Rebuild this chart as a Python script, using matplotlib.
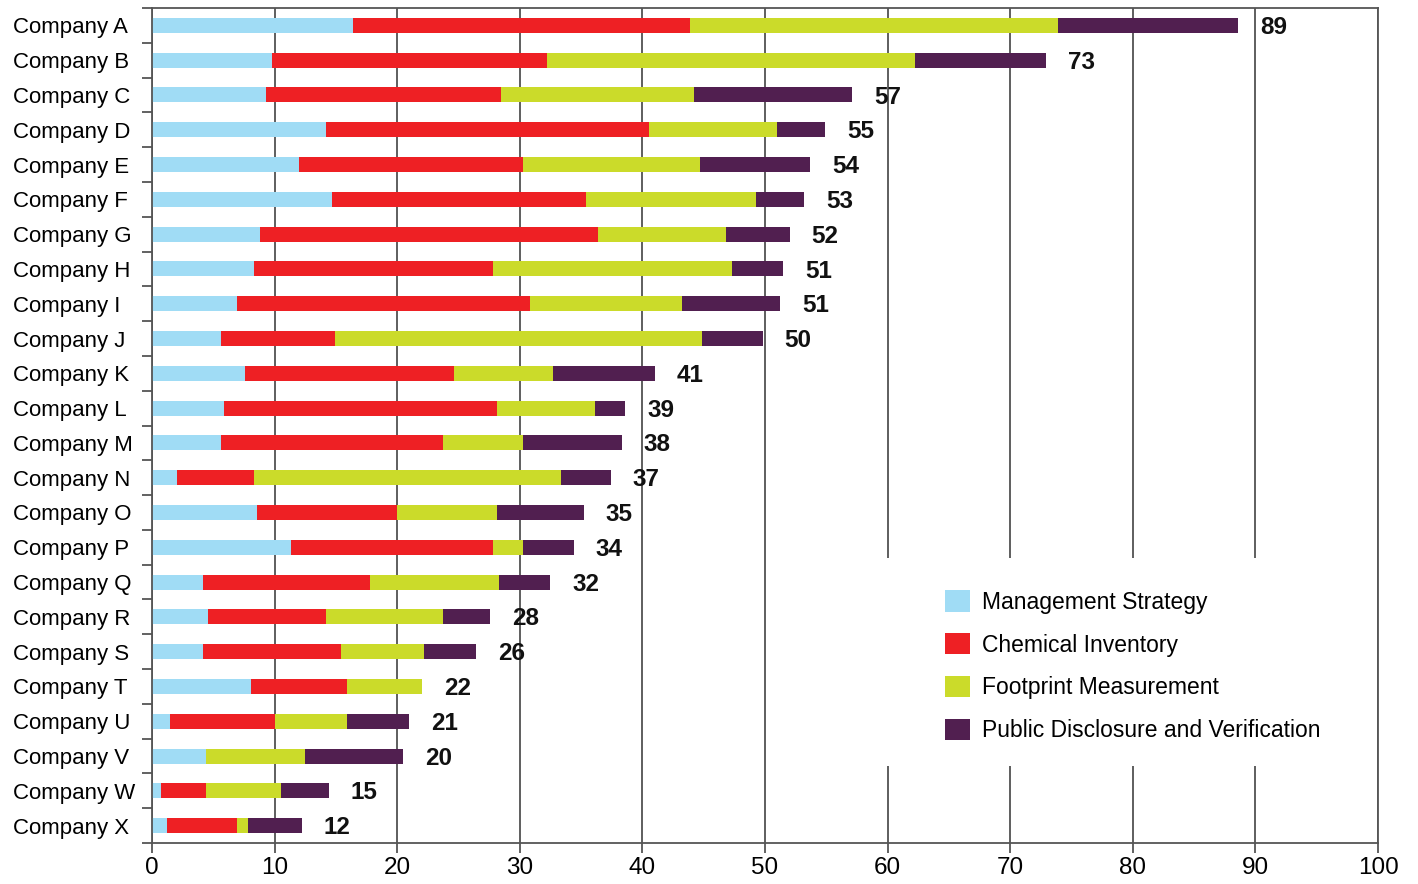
import numpy as np
import matplotlib
matplotlib.use('Agg')
import matplotlib.pyplot as plt
from matplotlib.patches import Rectangle

plt.rcParams['font.family'] = ['Liberation Sans', 'DejaVu Sans']

companies = ['Company ' + c for c in 'ABCDEFGHIJKLMNOPQRSTUVWX']
management = [16.4, 9.8, 9.3, 14.2, 12.0, 14.7, 8.8, 8.3, 6.9, 5.6, 7.6, 5.9,
              5.6, 2.0, 8.6, 11.3, 4.2, 4.6, 4.2, 8.1, 1.5, 4.4, 0.7, 1.2]
chemical = [27.5, 22.4, 19.2, 26.3, 18.3, 20.7, 27.6, 19.5, 23.9, 9.3, 17.0, 22.2,
            18.1, 6.3, 11.4, 16.5, 13.6, 9.6, 11.2, 7.8, 8.5, 0.0, 3.7, 5.7]
footprint = [30.0, 30.0, 15.7, 10.5, 14.4, 13.9, 10.4, 19.5, 12.4, 30.0, 8.1, 8.0,
             6.6, 25.1, 8.1, 2.5, 10.5, 9.5, 6.8, 6.1, 5.9, 8.1, 6.1, 0.9]
disclosure = [14.7, 10.7, 12.9, 3.9, 9.0, 3.9, 5.2, 4.2, 8.0, 4.9, 8.3, 2.5,
              8.0, 4.0, 7.1, 4.1, 4.2, 3.9, 4.2, 0.0, 5.1, 8.0, 3.9, 4.4]
totals = [89, 73, 57, 55, 54, 53, 52, 51, 51, 50, 41, 39,
          38, 37, 35, 34, 32, 28, 26, 22, 21, 20, 15, 12]

series = [('Management Strategy', management, '#a0dcf5'),
          ('Chemical Inventory', chemical, '#ee2024'),
          ('Footprint Measurement', footprint, '#cbdb2a'),
          ('Public Disclosure and Verification', disclosure, '#511f50')]

fig = plt.figure(figsize=(14.18, 8.84), dpi=100)
ax = fig.add_axes([152/1418, 1 - 843/884, 1226/1418, 835/884])

y = np.arange(len(companies))
left = np.zeros(len(companies))
for name, vals, col in series:
    vals = np.array(vals)
    ax.barh(y, vals, left=left, height=0.43, color=col, label=name, zorder=2)
    left += vals

for yi, end, t in zip(y, left, totals):
    ax.text(end + 1.8, yi + 0.06, str(t), va='center', ha='left', fontsize=17.5,
            fontweight='bold', color='#111111')

ax.set_xlim(0, 100)
ax.set_ylim(len(companies) - 0.5, -0.5)
ax.set_xticks(np.arange(0, 101, 10))
ax.set_yticks(y)
ax.set_yticklabels(companies, ha='left')
ax.set_yticks(np.arange(-0.5, len(companies), 1), minor=True)
# labels start at the left edge of the figure
ax.tick_params(axis='y', which='major', length=0, pad=100, labelsize=16)
ax.tick_params(axis='y', which='minor', length=7, width=1.3, color='#555555')
ax.tick_params(axis='x', length=7, width=1.3, color='#555555', labelsize=17.5, pad=3)

ax.grid(axis='x', color='#333333', linewidth=1.1, zorder=0.5)
ax.set_axisbelow(True)
for s in ax.spines.values():
    s.set_color('#555555')
    s.set_linewidth(1.3)

# white backing behind the legend, hides the gridlines there
ax.add_patch(Rectangle((0.59, 0.092), 0.405, 0.249, transform=ax.transAxes,
                       facecolor='white', edgecolor='none', zorder=1))

leg = ax.legend(loc='upper left', bbox_to_anchor=(934/1418, 1 - 579/884),
                bbox_transform=fig.transFigure, frameon=False, fontsize=16.5,
                borderpad=0, handlelength=1.05, handleheight=1.05,
                handletextpad=0.55, labelspacing=0.84)
leg.set_zorder(3)

fig.savefig('out.png', dpi=100)
